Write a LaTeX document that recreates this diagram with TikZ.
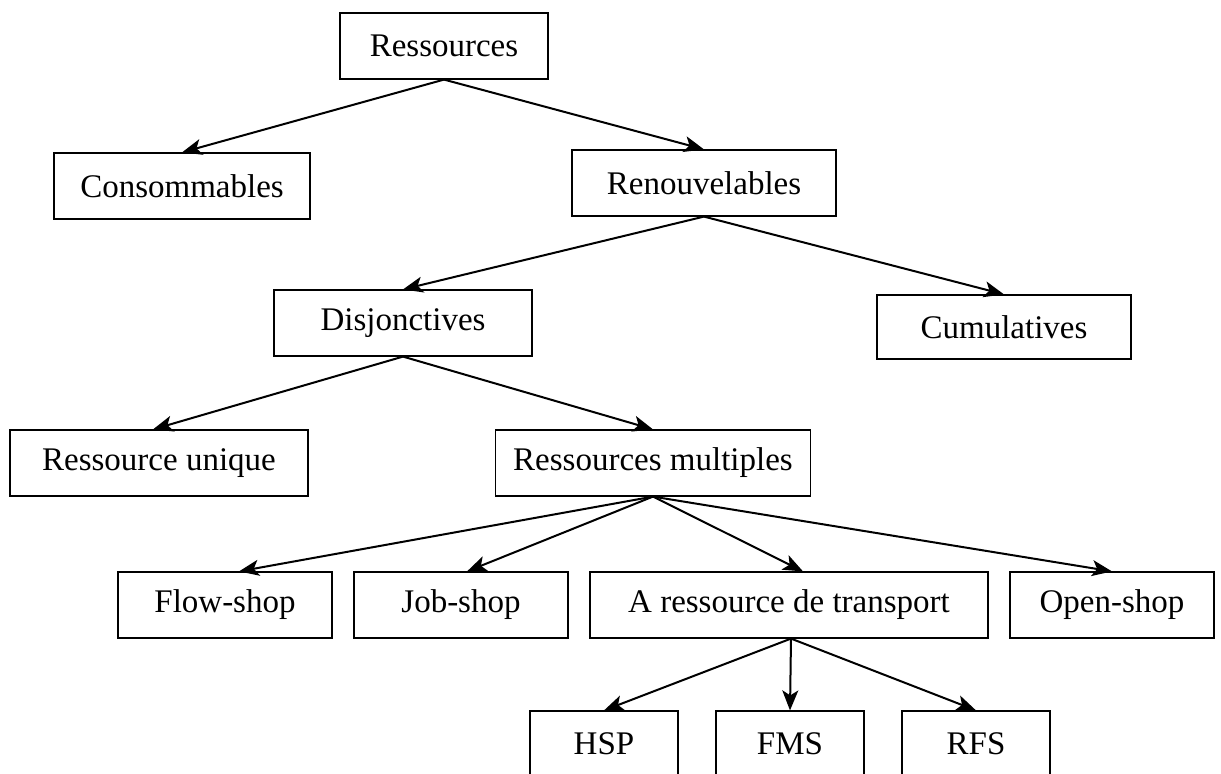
\documentclass[tikz,border=0pt]{standalone}
\usepackage{fontspec}
\setmainfont{Liberation Serif}
\usetikzlibrary{arrows.meta}
\tikzset{
  res/.style={draw, line width=0.6pt, inner sep=0pt, minimum height=33pt,
    font=\fontsize{16.5}{19}\selectfont},
  fl/.style={-{Stealth[length=10pt,width=8pt,inset=2.5pt]}, line width=1pt},
}
\begin{document}
\begin{tikzpicture}[x=0.5pt, y=-0.5pt]
      \useasboundingbox (0,0) rectangle (1221,774);
      \node[res, minimum width=104pt] (ressources) at (444,46) {Ressources};
      \node[res, minimum width=128pt] (conso) at (182,186) {Consommables};
      \node[res, minimum width=132pt] (renouv) at (704,183) {Renouvelables};
      \node[res, minimum width=129pt] (disj) at (403,323) {Disjonctives};
      \node[res, minimum width=127pt, minimum height=32pt] (cumul) at (1004,327) {Cumulatives};
      \node[res, minimum width=149pt] (unique) at (159,463) {Ressource unique};
      \node[res, minimum width=157.5pt] (multi) at (653,463) {Ressources multiples};
      \node[res, minimum width=107pt] (flow) at (225,605) {Flow-shop};
      \node[res, minimum width=107pt] (job) at (461,605) {Job-shop};
      \node[res, minimum width=199pt] (transp) at (789,605) {A ressource de transport};
      \node[res, minimum width=102pt] (open) at (1112,605) {Open-shop};
      \node[res, minimum width=74pt] (hsp) at (604,744) {HSP};
      \node[res, minimum width=74pt] (fms) at (790,744) {FMS};
      \node[res, minimum width=74pt] (rfs) at (976,744) {RFS};
      % arbre des ressources
      \draw[fl] (ressources.south) -- (conso.north);
      \draw[fl] (ressources.south) -- (renouv.north);
      \draw[fl] (renouv.south) -- (disj.north);
      \draw[fl] (renouv.south) -- (cumul.north);
      \draw[fl] (disj.south) -- ([xshift=-3pt]unique.north);
      \draw[fl] (disj.south) -- (multi.north);
      \draw[fl] (multi.south) -- ([xshift=7pt]flow.north);
      \draw[fl] (multi.south) -- ([xshift=3pt]job.north);
      \draw[fl] (multi.south) -- ([xshift=7pt]transp.north);
      \draw[fl] (multi.south) -- (open.north);
      \draw[fl] ([xshift=1pt]transp.south) -- (hsp.north);
      \draw[fl] ([xshift=1pt]transp.south) -- (fms.north);
      \draw[fl] ([xshift=1pt]transp.south) -- (rfs.north);
\end{tikzpicture}
\end{document}
